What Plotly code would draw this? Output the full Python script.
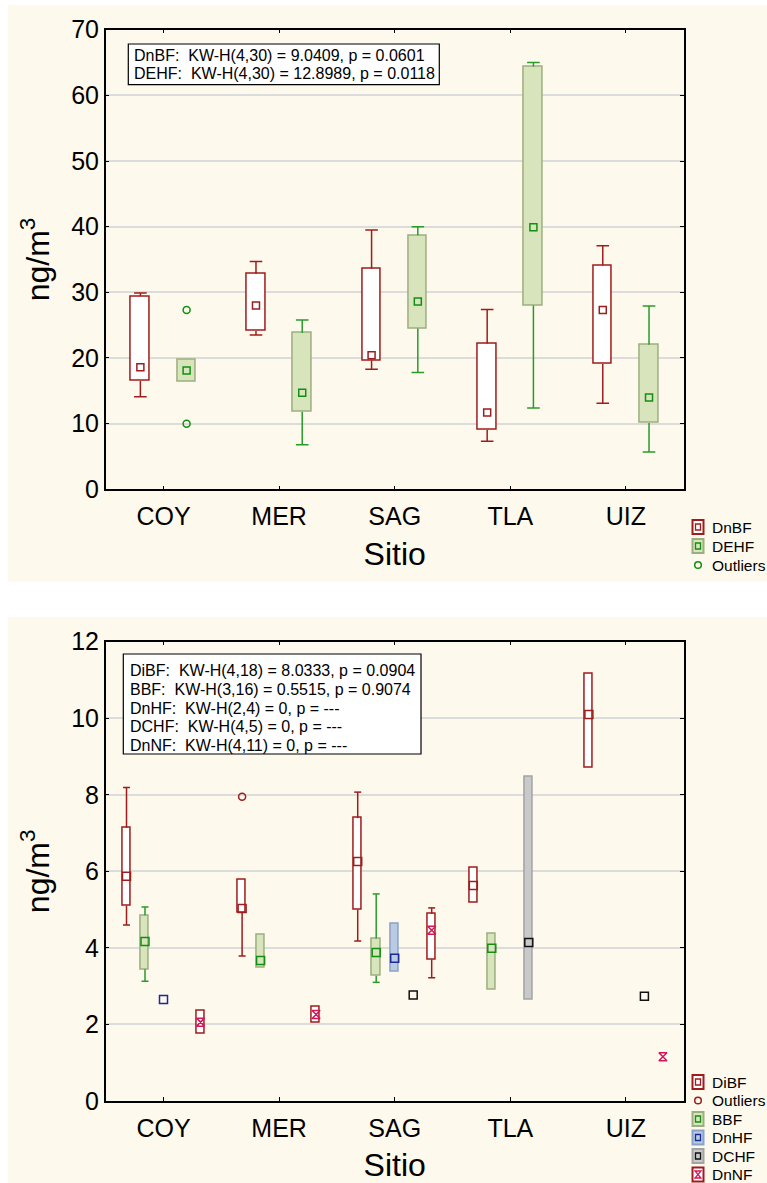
import plotly.graph_objects as go

FONT = "Liberation Sans, Arial, sans-serif"
W, H = 767, 1183

sites = ["COY", "MER", "SAG", "TLA", "UIZ"]

# ---------------- Top chart (ng/m3) ----------------
dnbf_lo = [14.1, 23.5, 18.3, 7.3, 13.1]
dnbf_q1 = [16.5, 24.1, 19.6, 9.05, 19.1]
dnbf_med = [18.6, 28.0, 20.4, 11.7, 27.3]
dnbf_q3 = [29.4, 32.8, 33.6, 22.2, 34.1]
dnbf_hi = [29.9, 34.7, 39.5, 27.4, 37.1]

dehf_lo = [None, 6.8, 17.8, 12.4, 5.7]
dehf_q1 = [16.4, 11.8, 24.5, 28.0, 10.1]
dehf_med = [18.1, 14.7, 28.6, 39.9, 14.0]
dehf_q3 = [19.7, 23.8, 38.7, 64.4, 22.0]
dehf_hi = [None, 25.8, 40.0, 65.0, 27.9]

dehf_out_site = ["COY", "COY"]
dehf_out_val = [27.3, 10.0]

top_stats = ["DnBF:\u00a0 KW-H(4,30) = 9.0409, p = 0.0601",
             "DEHF:\u00a0 KW-H(4,30) = 12.8989, p = 0.0118"]

# ---------------- Bottom chart (ng/m3) ----------------
dibf_lo = [4.60, 3.79, 4.18, None, None]
dibf_q1 = [5.10, 4.91, 5.00, 5.18, 8.70]
dibf_med = [5.87, 5.03, 6.26, 5.63, 10.10]
dibf_q3 = [7.14, 5.79, 7.39, 6.10, 11.16]
dibf_hi = [8.19, None, 8.07, None, None]
dibf_out_site = ["MER"]
dibf_out_val = [7.95]

bbf_lo = [3.13, None, 3.10, None, None]
bbf_q1 = [3.44, 3.49, 3.27, 2.92, None]
bbf_med = [4.17, 3.67, 3.88, 3.99, None]
bbf_q3 = [4.85, 4.35, 4.245, 4.36, None]
bbf_hi = [5.07, None, 5.41, None, None]

dnhf_q1 = [None, None, 3.37, None, None]
dnhf_med = [2.65, None, 3.73, None, None]
dnhf_q3 = [None, None, 4.645, None, None]

dchf_q1 = [None, None, None, 2.65, None]
dchf_med = [None, None, 2.77, 4.14, 2.74]
dchf_q3 = [None, None, None, 8.48, None]

dnnf_lo = [None, None, 3.22, None, None]
dnnf_q1 = [1.77, 2.05, 3.70, None, None]
dnnf_med = [2.06, 2.26, 4.46, None, 1.155]
dnnf_q3 = [2.36, 2.46, 4.89, None, None]
dnnf_hi = [None, None, 5.045, None, None]

bottom_stats = ["DiBF:\u00a0 KW-H(4,18) = 8.0333, p = 0.0904",
                "BBF:\u00a0 KW-H(3,16) = 0.5515, p = 0.9074",
                "DnHF:\u00a0 KW-H(2,4) = 0, p = ---",
                "DCHF:\u00a0 KW-H(4,5) = 0, p = ---",
                "DnNF:\u00a0 KW-H(4,11) = 0, p = ---"]

top_legend = ["DnBF", "DEHF", "Outliers"]
bottom_legend = ["DiBF", "Outliers", "BBF", "DnHF", "DCHF", "DnNF"]

# ---------------- styles ----------------
RED = "#9e1c1c"
GREEN_W = "#2a9a2a"
GREEN_M = "#128f12"
GREEN_FILL = "#d8e4bc"
GREEN_EDGE = "#9cae80"
BLUE_FILL = "#b9cae3"
BLUE_EDGE = "#8aa2c8"
BLUE_M = "#1c2a99"
GRAY_FILL = "#c9c9c9"
GRAY_EDGE = "#a3a3a3"
PINK = "#d3155a"
CREAM = "#fef9ed"

fig = go.Figure()


def add_box_series(name, xa, ya, offset, width, q1, med, q3,
                   lo=None, hi=None, fill="white", edge=RED, whisk=RED,
                   mcolor=RED, msym="square-open", msize=7, cap=9):
    n = len(sites)
    xs = [i + offset for i in range(n)]
    bx, by, bb = [], [], []
    for i in range(n):
        if q1[i] is not None and q3[i] is not None:
            bx.append(xs[i]); bb.append(q1[i]); by.append(q3[i] - q1[i])
    fig.add_trace(go.Bar(x=bx, y=by, base=bb, width=width, name=name,
                         marker=dict(color=fill, line=dict(color=edge, width=1.5)),
                         xaxis=xa, yaxis=ya, showlegend=False, hoverinfo="skip"))
    wx, wy, cx, cy = [], [], [], []
    for i in range(n):
        if hi is not None and hi[i] is not None:
            wx += [xs[i], xs[i], None]; wy += [q3[i], hi[i], None]
            cx.append(xs[i]); cy.append(hi[i])
        if lo is not None and lo[i] is not None:
            wx += [xs[i], xs[i], None]; wy += [q1[i], lo[i], None]
            cx.append(xs[i]); cy.append(lo[i])
    if wx:
        fig.add_trace(go.Scatter(x=wx, y=wy, mode="lines",
                                 line=dict(color=whisk, width=1.5),
                                 xaxis=xa, yaxis=ya, showlegend=False,
                                 hoverinfo="skip"))
        fig.add_trace(go.Scatter(x=cx, y=cy, mode="markers",
                                 marker=dict(symbol="line-ew-open", size=cap,
                                             color=whisk,
                                             line=dict(color=whisk, width=1.5)),
                                 xaxis=xa, yaxis=ya, showlegend=False,
                                 hoverinfo="skip"))
    mx = [xs[i] for i in range(n) if med[i] is not None]
    my = [m for m in med if m is not None]
    fig.add_trace(go.Scatter(x=mx, y=my, mode="markers", name=name,
                             marker=dict(symbol=msym, size=msize, color=mcolor,
                                         line=dict(color=mcolor, width=1.5)),
                             xaxis=xa, yaxis=ya, showlegend=False,
                             hoverinfo="skip"))


def add_outliers(xa, ya, offset, osite, oval, color):
    ox = [sites.index(s) + offset for s in osite]
    fig.add_trace(go.Scatter(x=ox, y=oval, mode="markers", name="Outliers",
                             marker=dict(symbol="circle-open", size=7,
                                         color=color, line=dict(color=color, width=1.5)),
                             xaxis=xa, yaxis=ya, showlegend=False,
                             hoverinfo="skip"))


# top chart
add_box_series("DnBF", "x", "y", -0.2, 0.16,
               dnbf_q1, dnbf_med, dnbf_q3, dnbf_lo, dnbf_hi,
               fill="white", edge=RED, whisk=RED, mcolor=RED, msize=7, cap=9)
add_box_series("DEHF", "x", "y", 0.2, 0.16,
               dehf_q1, dehf_med, dehf_q3, dehf_lo, dehf_hi,
               fill=GREEN_FILL, edge=GREEN_EDGE, whisk=GREEN_W, mcolor=GREEN_M,
               msize=7, cap=9)
add_outliers("x", "y", 0.2, dehf_out_site, dehf_out_val, GREEN_M)

# bottom chart
add_box_series("DiBF", "x2", "y2", -0.32, 0.07,
               dibf_q1, dibf_med, dibf_q3, dibf_lo, dibf_hi,
               fill="white", edge=RED, whisk=RED, mcolor=RED, msize=8, cap=5)
add_outliers("x2", "y2", -0.32, dibf_out_site, dibf_out_val, RED)
add_box_series("BBF", "x2", "y2", -0.16, 0.07,
               bbf_q1, bbf_med, bbf_q3, bbf_lo, bbf_hi,
               fill=GREEN_FILL, edge=GREEN_EDGE, whisk=GREEN_W, mcolor=GREEN_M,
               msize=8, cap=5)
add_box_series("DnHF", "x2", "y2", 0.0, 0.07,
               dnhf_q1, dnhf_med, dnhf_q3,
               fill=BLUE_FILL, edge=BLUE_EDGE, whisk=BLUE_M, mcolor=BLUE_M,
               msize=8, cap=5)
add_box_series("DCHF", "x2", "y2", 0.16, 0.07,
               dchf_q1, dchf_med, dchf_q3,
               fill=GRAY_FILL, edge=GRAY_EDGE, whisk="#111111", mcolor="#111111",
               msize=8, cap=5)
add_box_series("DnNF", "x2", "y2", 0.32, 0.07,
               dnnf_q1, dnnf_med, dnnf_q3, dnnf_lo, dnnf_hi,
               fill="white", edge=RED, whisk=RED, mcolor=PINK,
               msym="hourglass-open", msize=8, cap=5)

XDOM = [105.7 / W, 683.7 / W]
TOP_DOM = [1 - 489.3 / H, 1 - 29.7 / H]
BOT_DOM = [1 - 1101.0 / H, 1 - 641.7 / H]

axis_common = dict(showline=True, linecolor="black", linewidth=1.5,
                   mirror="ticks", ticks="inside", ticklen=4, tickwidth=1.2,
                   tickcolor="black", zeroline=False, automargin=False,
                   tickfont=dict(family=FONT, size=25, color="black"))

xcommon = dict(axis_common, range=[-0.5, 4.5], tickmode="array",
               tickvals=list(range(len(sites))), ticktext=sites, showgrid=False,
               ticklabelstandoff=4,
               title=dict(text="Sitio", font=dict(family=FONT, size=32, color="black"),
                          standoff=14))

ycommon = dict(axis_common, showgrid=True, gridcolor="#dcdcdc", gridwidth=2,
               title=dict(text="ng/m<sup>3</sup>",
                          font=dict(family=FONT, size=32, color="black"),
                          standoff=12))


def px(x):
    return x / W


def py(y):
    return 1 - y / H


def stats_annotations(lines, x_left, y_first, step):
    out = []
    for k, t in enumerate(lines):
        out.append(dict(text=t, xref="paper", yref="paper",
                        x=px(x_left), y=py(y_first + k * step),
                        xanchor="left", yanchor="middle", align="left",
                        showarrow=False,
                        font=dict(family=FONT, size=16, color="black")))
    return out


# legend styles: (kind, fill, edge, inner colour)
legend_style = {
    "DnBF": ("box", "white", RED, RED),
    "DEHF": ("box", GREEN_FILL, GREEN_EDGE, GREEN_M),
    "DiBF": ("box", "white", RED, RED),
    "BBF": ("box", GREEN_FILL, GREEN_EDGE, GREEN_M),
    "DnHF": ("box", BLUE_FILL, BLUE_EDGE, BLUE_M),
    "DCHF": ("box", GRAY_FILL, GRAY_EDGE, "#111111"),
    "DnNF": ("hour", "white", RED, PINK),
}

SX, TX = 698, 710


def legend_items(names, y0, step, out_color):
    shapes, annos = [], []
    for k, nm in enumerate(names):
        cy = y0 + k * step
        annos.append(dict(text=nm, xref="paper", yref="paper", x=px(TX), y=py(cy),
                          xanchor="left", yanchor="middle", showarrow=False,
                          font=dict(family=FONT, size=15.5, color="black")))
        if nm == "Outliers":
            shapes.append(dict(type="circle", xref="paper", yref="paper",
                               x0=px(SX - 3.3), x1=px(SX + 3.3),
                               y0=py(cy + 3.3), y1=py(cy - 3.3),
                               line=dict(color=out_color, width=1.5),
                               fillcolor="rgba(0,0,0,0)", layer="above"))
            continue
        kind, fill, edge, inner = legend_style[nm]
        shapes.append(dict(type="rect", xref="paper", yref="paper",
                           x0=px(SX - 5.5), x1=px(SX + 5.5),
                           y0=py(cy + 7), y1=py(cy - 7),
                           fillcolor=fill, line=dict(color=edge, width=2),
                           layer="above"))
        if kind == "box":
            shapes.append(dict(type="rect", xref="paper", yref="paper",
                               x0=px(SX - 2.5), x1=px(SX + 2.5),
                               y0=py(cy + 3), y1=py(cy - 3),
                               fillcolor="rgba(0,0,0,0)",
                               line=dict(color=inner, width=1.3), layer="above"))
        else:
            a, b = SX - 3, SX + 3
            t, u = cy - 3.5, cy + 3.5
            path = (f"M {px(a)},{py(t)} L {px(b)},{py(t)} L {px(a)},{py(u)} "
                    f"L {px(b)},{py(u)} Z")
            shapes.append(dict(type="path", xref="paper", yref="paper", path=path,
                               line=dict(color=inner, width=1.3), layer="above"))
    return shapes, annos


lg_top_shapes, lg_top_annos = legend_items(top_legend, 527, 19, GREEN_M)
lg_bot_shapes, lg_bot_annos = legend_items(bottom_legend, 1082, 18.5, RED)

fig.update_layout(
    width=W, height=H, margin=dict(l=0, r=0, t=0, b=0),
    paper_bgcolor="white", plot_bgcolor="white",
    barmode="overlay", bargap=0, showlegend=False,
    font=dict(family=FONT, color="black"),
    xaxis=dict(xcommon, domain=XDOM, anchor="y"),
    yaxis=dict(ycommon, domain=TOP_DOM, anchor="x", range=[0, 70], dtick=10),
    xaxis2=dict(xcommon, domain=XDOM, anchor="y2"),
    yaxis2=dict(ycommon, domain=BOT_DOM, anchor="x2", range=[0, 12], dtick=2),
    shapes=[
        dict(type="rect", xref="paper", yref="paper", layer="below",
             x0=px(8), x1=1, y0=py(581.7), y1=py(5),
             fillcolor=CREAM, line=dict(width=0)),
        dict(type="rect", xref="paper", yref="paper", layer="below",
             x0=px(8), x1=1, y0=0, y1=py(617.3),
             fillcolor=CREAM, line=dict(width=0)),
        dict(type="rect", xref="paper", yref="paper", layer="above",
             x0=px(128.3), x1=px(439.3), y0=py(84.7), y1=py(44),
             fillcolor="white", line=dict(color="black", width=1.2)),
        dict(type="rect", xref="paper", yref="paper", layer="above",
             x0=px(123.3), x1=px(421), y0=py(754), y1=py(654),
             fillcolor="white", line=dict(color="black", width=1.2)),
    ] + lg_top_shapes + lg_bot_shapes,
    annotations=stats_annotations(top_stats, 132, 55, 18)
    + stats_annotations(bottom_stats, 128, 670.5, 18.8)
    + lg_top_annos + lg_bot_annos,
)

fig.write_html("out.html")
